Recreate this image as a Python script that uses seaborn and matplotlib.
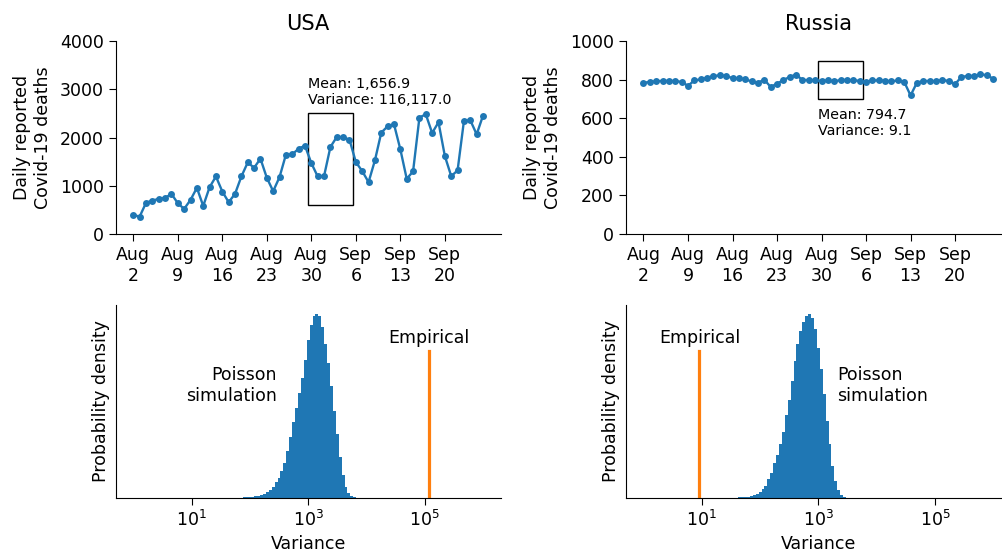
import numpy as np
import pandas as pd
import matplotlib
matplotlib.use("Agg")
import matplotlib.pyplot as plt
import matplotlib.dates as mdates
from matplotlib.patches import Rectangle
from matplotlib.ticker import NullLocator
import seaborn as sns

# daily reported deaths, Aug 2 - Sep 26
dates = pd.date_range("2020-08-02", "2020-09-26", freq="D")
usa_deaths = [396, 361, 646, 694, 729, 750, 833, 639, 521, 708, 958, 583, 972, 1194,
              882, 660, 833, 1194, 1486, 1375, 1563, 1167, 889, 1181, 1646, 1653, 1771, 1833,
              1472, 1194, 1201, 1806, 2014, 2007, 1958, 1493, 1306, 1076, 1528, 2104, 2236, 2278,
              1757, 1146, 1299, 2417, 2486, 2097, 2319, 1618, 1201, 1319, 2347, 2361, 2069, 2458]
russia_deaths = [785, 789, 792, 795, 794, 794, 789, 769, 797, 802, 811, 820, 823, 820,
                 809, 808, 802, 792, 785, 801, 763, 780, 799, 815, 827, 799, 799, 797,
                 794, 797, 792, 799, 799, 797, 795, 790, 797, 797, 795, 792, 797, 790,
                 719, 785, 794, 794, 792, 799, 794, 778, 815, 820, 820, 830, 823, 806]
tick_dates = pd.date_range("2020-08-02", "2020-09-20", freq="7D")

# highlighted week and its stats
window = (pd.Timestamp("2020-08-30"), pd.Timestamp("2020-09-05"))
usa_box_y = (600, 2510)
russia_box_y = (700, 900)
usa_mean, usa_var = 1656.9, 116117.0
russia_mean, russia_var = 794.7, 9.1

# simulated variance histograms (log10 bin centres, relative heights)
bin_w = 0.05
usa_sim_start = 1.90
usa_sim_heights = [.002, .003, .004, .006, .008, .011, .015, .02, .03, .043, .06, .085, .11,
                   .145, .19, .255, .33, .41, .49, .57, .65, .75, .86, .94, .99, 1.0, .99,
                   .93, .84, .735, .61, .47, .345, .22, .125, .06, .025, .008, .002]
russia_sim_start = 1.60
russia_sim_heights = [.001, .002, .003, .004, .005, .008, .012, .02, .03, .045, .065, .10, .135,
                      .19, .235, .29, .36, .45, .53, .635, .745, .84, .91, .96, .99, 1.0, .98,
                      .92, .815, .70, .565, .42, .295, .175, .09, .04, .015, .004, .001]

blue = "#1f77b4"
orange = "#ff7f0e"

plt.rcParams["font.family"] = ["DejaVu Sans"]
plt.rcParams["xtick.major.size"] = 5
plt.rcParams["ytick.major.size"] = 5

fig = plt.figure(figsize=(10.03, 5.54), dpi=100)
W, H = 1003, 554
lefts = [115.8 / W, 626 / W]
width = 384.7 / W
height = 192.7 / H
top_b = (H - 234) / H
bot_b = (H - 497.7) / H


def draw_series(ax, values, title, ylim, yticks, box_y, txt, txt_above):
    sns.lineplot(x=dates, y=values, ax=ax, color=blue, linewidth=1.7,
                 marker="o", markersize=5, markeredgewidth=0)
    x0 = mdates.date2num(window[0] - pd.Timedelta(hours=12))
    x1 = mdates.date2num(window[1] + pd.Timedelta(hours=12))
    ax.add_patch(Rectangle((x0, box_y[0]), x1 - x0, box_y[1] - box_y[0],
                           fill=False, edgecolor="black", linewidth=1))
    if txt_above:
        ax.annotate(txt, xy=(x0, box_y[1]), xytext=(0, 4.5), textcoords="offset points",
                    ha="left", va="bottom", fontsize=10.3)
    else:
        ax.annotate(txt, xy=(x0, box_y[0]), xytext=(0, -6.5), textcoords="offset points",
                    ha="left", va="top", fontsize=10.3)
    pad = pd.Timedelta(days=2.75)
    ax.set_xlim(dates[0] - pad, dates[-1] + pad)
    ax.set_ylim(*ylim)
    ax.set_yticks(yticks)
    ax.set_xticks(tick_dates)
    ax.set_xticklabels([f"{d:%b}\n{d.day}" for d in tick_dates])
    ax.tick_params(labelsize=12.5)
    ax.set_xlabel("")
    ax.set_ylabel("Daily reported\nCovid-19 deaths", fontsize=12.5, labelpad=6)
    ax.set_title(title, fontsize=15, pad=8)
    sns.despine(ax=ax)


def draw_hist(ax, start, heights, emp, poisson_x, poisson_ha):
    centers = start + bin_w * np.arange(len(heights))
    sns.histplot(x=10 ** centers, weights=heights, log_scale=True, ax=ax,
                 binwidth=bin_w, binrange=(start - bin_w / 2, centers[-1] + bin_w / 2),
                 element="step", fill=True, linewidth=0, alpha=1, color=blue)
    peak = max(heights)
    ax.plot([emp, emp], [0, 0.8 * peak], color=orange, linewidth=2.3)
    ax.annotate("Empirical", xy=(emp, 0.8 * peak), xytext=(0, 3), textcoords="offset points",
                ha="center", va="bottom", fontsize=12.5)
    ax.text(poisson_x, 0.612 * peak, "Poisson\nsimulation", ha=poisson_ha, va="center",
            fontsize=12.5)
    ax.set_xlim(10 ** -0.3, 10 ** 6.3)
    ax.set_ylim(0, peak * 1.05)
    ax.set_xticks([1e1, 1e3, 1e5])
    ax.xaxis.set_minor_locator(NullLocator())
    ax.set_yticks([])
    ax.tick_params(labelsize=12.5)
    ax.set_xlabel("Variance", fontsize=12.5)
    ax.set_ylabel("Probability density", fontsize=12.5)
    sns.despine(ax=ax)


ax1 = fig.add_axes([lefts[0], top_b, width, height])
draw_series(ax1, usa_deaths, "USA", (0, 4000), [0, 1000, 2000, 3000, 4000], usa_box_y,
            f"Mean: {usa_mean:,.1f}\nVariance: {usa_var:,.1f}", True)
ax2 = fig.add_axes([lefts[1], top_b, width, height])
draw_series(ax2, russia_deaths, "Russia", (0, 1000), [0, 200, 400, 600, 800, 1000], russia_box_y,
            f"Mean: {russia_mean:,.1f}\nVariance: {russia_var:,.1f}", False)

ax3 = fig.add_axes([lefts[0], bot_b, width, height])
draw_hist(ax3, usa_sim_start, usa_sim_heights, usa_var, 292, "right")
ax4 = fig.add_axes([lefts[1], bot_b, width, height])
draw_hist(ax4, russia_sim_start, russia_sim_heights, russia_var, 2100, "left")

fig.savefig("out.png", dpi=100)
